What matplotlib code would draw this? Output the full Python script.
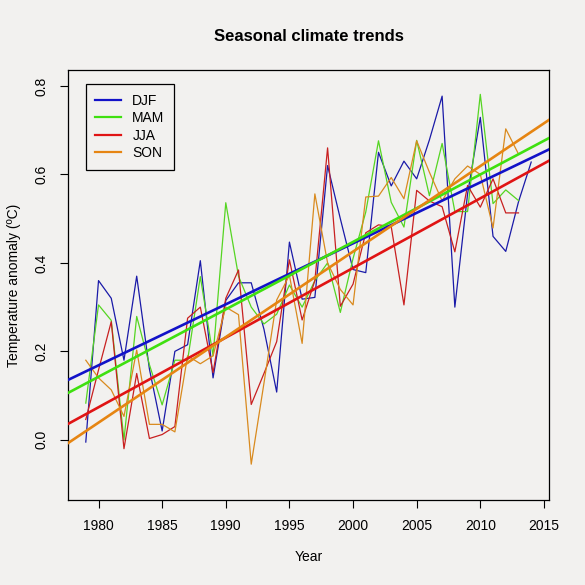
import numpy as np
import matplotlib
matplotlib.use("Agg")
import matplotlib.pyplot as plt

plt.rcParams['font.family'] = ['Liberation Sans', 'DejaVu Sans']

# Dados
anos_djf = np.arange(1979, 2015)
anos = np.arange(1979, 2014)

djf = [-0.005, 0.36, 0.32, 0.18, 0.37, 0.16, 0.02, 0.20, 0.215, 0.405,
       0.14, 0.315, 0.355, 0.355, 0.25, 0.108, 0.447, 0.318, 0.322, 0.62,
       0.50, 0.385, 0.378, 0.65, 0.574, 0.63, 0.59, 0.678, 0.777, 0.30,
       0.556, 0.729, 0.46, 0.426, 0.538, 0.628]
mam = [0.083, 0.305, 0.27, 0.0, 0.279, 0.17, 0.079, 0.18, 0.18, 0.369,
       0.19, 0.536, 0.37, 0.30, 0.262, 0.284, 0.35, 0.30, 0.36, 0.40,
       0.288, 0.41, 0.515, 0.676, 0.537, 0.481, 0.677, 0.552, 0.67, 0.516,
       0.516, 0.781, 0.534, 0.565, 0.541]
jja = [0.046, 0.158, 0.267, -0.02, 0.15, 0.003, 0.012, 0.03, 0.275, 0.30,
       0.152, 0.32, 0.384, 0.08, 0.15, 0.222, 0.407, 0.271, 0.36, 0.66,
       0.302, 0.352, 0.468, 0.486, 0.482, 0.305, 0.564, 0.54, 0.527, 0.425,
       0.575, 0.526, 0.59, 0.513, 0.513]
son = [0.18, 0.14, 0.113, 0.053, 0.203, 0.035, 0.035, 0.018, 0.19, 0.172,
       0.19, 0.30, 0.283, -0.055, 0.128, 0.316, 0.372, 0.218, 0.556, 0.40,
       0.34, 0.305, 0.549, 0.551, 0.593, 0.545, 0.676, 0.605, 0.54, 0.59,
       0.619, 0.60, 0.479, 0.703, 0.646]

series = [
    ("DJF", anos_djf, djf, '#1a1aa8', '#1212c8'),
    ("MAM", anos, mam, '#55d522', '#3fe010'),
    ("JJA", anos, jja, '#c82020', '#e01414'),
    ("SON", anos, son, '#d98a1e', '#e68512'),
]

fundo = '#f2f1ef'
fig = plt.figure(figsize=(5.85, 5.85), dpi=100, facecolor=fundo)
ax = fig.add_axes([0.1162, 0.1453, 0.8223, 0.735], facecolor=fundo)

xlim = (1977.6, 2015.4)
ax.set_xlim(*xlim)
ax.set_ylim(-0.136, 0.836)

# Séries anuais
for nome, x, y, cor, cor_trend in series:
    ax.plot(x, y, color=cor, lw=0.9, zorder=2)

# Retas de tendência (ajuste linear)
xx = np.array(xlim)
handles = []
for nome, x, y, cor, cor_trend in series:
    a, b = np.polyfit(x, y, 1)
    ax.plot(xx, a * xx + b, color=cor_trend, lw=1.9, zorder=3)
    h, = ax.plot([], [], color=cor_trend, lw=1.6, label=nome)
    handles.append(h)

ax.set_xticks(np.arange(1980, 2016, 5))
ax.set_yticks([0.0, 0.2, 0.4, 0.6, 0.8])
ax.set_yticklabels(['0.0', '0.2', '0.4', '0.6', '0.8'], rotation=90, va='center')
ax.tick_params(direction='out', length=6, width=0.8, labelsize=10, pad=8, colors='black')

for s in ax.spines.values():
    s.set_linewidth(0.9)
    s.set_color('black')

ax.set_title("Seasonal climate trends", fontsize=12, fontweight='bold', pad=21)
ax.set_xlabel("Year", fontsize=10, labelpad=12)
ax.set_ylabel("Temperature anomaly (ºC)", fontsize=10, labelpad=10)

leg = ax.legend(handles=handles, loc='upper left', bbox_to_anchor=(0.037, 0.967),
                fancybox=False, edgecolor='black', facecolor=fundo, framealpha=1,
                fontsize=10, handlelength=1.85, handletextpad=0.8, labelspacing=0.24,
                borderpad=0.7, borderaxespad=0)
leg.get_frame().set_linewidth(0.9)

fig.savefig("out.png", dpi=100, facecolor=fundo)
